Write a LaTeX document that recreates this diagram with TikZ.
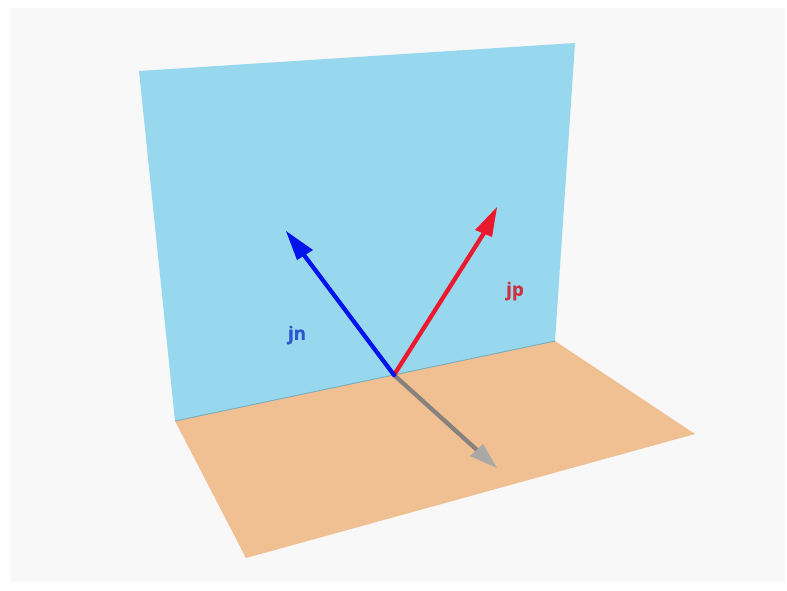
\documentclass[tikz,border=0pt]{standalone}
\usepackage{fontspec}
\setmainfont[FakeBold=0.6]{Open Sans}
\definecolor{pagebg}{RGB}{248,248,248}
\definecolor{wallblue}{RGB}{152,216,238}
\definecolor{floororange}{RGB}{240,192,146}
\definecolor{arrowblue}{RGB}{0,20,235}
\definecolor{arrowred}{RGB}{235,25,45}
\definecolor{arrowgray}{RGB}{135,130,125}
\definecolor{headgray}{RGB}{170,168,165}
\definecolor{labelblue}{RGB}{45,85,205}
\definecolor{labelred}{RGB}{205,50,65}
\tikzset{
  shaft/.style={line width=3.2pt,line cap=round},
  lbl/.style={inner sep=0pt,font=\fontsize{14pt}{16pt}\bfseries}
}
\begin{document}
\begin{tikzpicture}[x=0.75pt,y=-0.75pt]
\useasboundingbox (0,0) rectangle (787,591);
\fill[white] (0,0) rectangle (787,591);
\fill[pagebg] (10,8) rectangle (785,582);
% planes
\fill[wallblue] (139,71) -- (575,43) -- (555,341) -- (175,421) -- cycle;
\fill[floororange] (175,421) -- (555,341) -- (695,434) -- (246,558) -- cycle;
\draw[black!20!wallblue,line width=0.7pt] (175,421) -- (555,341);
% anchor points
\coordinate (o) at (394,375);
\coordinate (bs) at (304,255);
\coordinate (rs) at (484,233);
\coordinate (gs) at (477,450);
% arrows
\draw[shaft,arrowgray] (o) -- (gs);
\fill[headgray] (497,468) -- (470,456) -- (483,444) -- cycle;
\draw[shaft,arrowred] (o) -- (rs);
\fill[arrowred] (497,207) -- (475,230) -- (492,237) -- cycle;
\draw[shaft,arrowblue] (o) -- (bs);
\fill[arrowblue] (286,231) -- (313,250) -- (297,260) -- cycle;
% labels
\node[lbl,text=labelblue] (jn) at (297,335) {\selectfont jn};
\node[lbl,text=labelred] (jp) at (515,291) {\selectfont jp};
\end{tikzpicture}
\end{document}
